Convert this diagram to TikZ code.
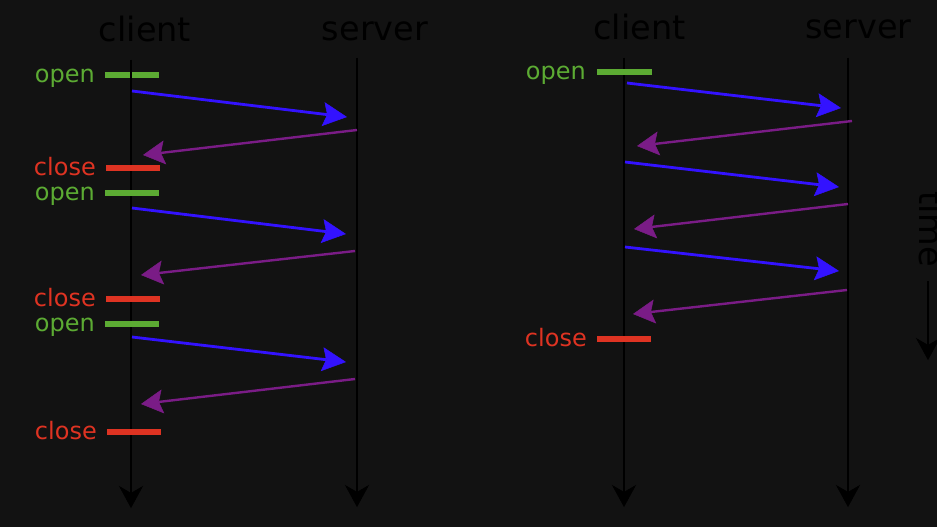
\documentclass[tikz,border=0pt]{standalone}
\usepackage{fontspec}
\setmainfont{DejaVu Sans}
\usetikzlibrary{arrows.meta}
\definecolor{bgc}{HTML}{121212}
\definecolor{reqc}{HTML}{3312FF}
\definecolor{respc}{HTML}{7A1C86}
\definecolor{openc}{HTML}{5CAB33}
\definecolor{closec}{HTML}{DE3322}
\tikzset{
  lifeline/.style={draw=black, line width=2.8pt, -{Stealth[length=22pt,width=24pt,inset=7pt,line width=0.5pt]}},
  req/.style={draw=reqc, line width=2.8pt, -{Stealth[length=24pt,width=24pt,inset=4pt,line width=0.5pt]}},
  resp/.style={draw=respc, line width=2.4pt, -{Stealth[length=22pt,width=24pt,inset=4pt,line width=0.5pt]}},
  openbar/.style={draw=openc, line width=6pt},
  closebar/.style={draw=closec, line width=6pt},
  head/.style={inner sep=0pt, anchor=base, text=black, font=\fontsize{33.5}{40}\selectfont},
  openlbl/.style={inner sep=0pt, anchor=base east, text=openc, font=\fontsize{24}{29}\selectfont},
  closelbl/.style={inner sep=0pt, anchor=base east, text=closec, font=\fontsize{24}{29}\selectfont},
}
\begin{document}
\begin{tikzpicture}[x=1pt,y=-1pt]
\fill[bgc] (0,0) rectangle (937,527);
\useasboundingbox (0,0) rectangle (937,527);

% headings
\node[head] (lc) at (145,42) {client};
\node[head] (ls) at (375,41) {server};
\node[head] (rc) at (639.5,40) {client};
\node[head] (rs) at (858.5,39) {server};

% first open bar (under the line)
\coordinate (lo1a) at (105,75); \coordinate (lo1b) at (159,75);
\draw[openbar] (lo1a) -- (lo1b);

% lifelines
\coordinate (lct) at (131,60); \coordinate (lcb) at (131,508);
\coordinate (lst) at (357,58); \coordinate (lsb) at (357,507);
\coordinate (rct) at (624,58); \coordinate (rcb) at (624,507);
\coordinate (rst) at (848,58); \coordinate (rsb) at (848,507);
\draw[lifeline] (lct) -- (lcb);
\draw[lifeline] (lst) -- (lsb);
\draw[lifeline] (rct) -- (rcb);
\draw[lifeline] (rst) -- (rsb);

% time arrow
\coordinate (tt) at (928,281); \coordinate (tb) at (928,360);
\draw[lifeline] (tt) -- (tb);
\node[inner sep=0pt, anchor=base west, rotate=-90, text=black, font=\fontsize{33.5}{40}\selectfont] (time) at (919,191) {time};

% left bars and labels
\node[openlbl] (lol1) at (95,82) {open};
\coordinate (lc1a) at (106,168); \coordinate (lc1b) at (160,168);
\draw[closebar] (lc1a) -- (lc1b);
\node[closelbl] (lcl1) at (96,175) {close};
\coordinate (lo2a) at (105,193); \coordinate (lo2b) at (159,193);
\draw[openbar] (lo2a) -- (lo2b);
\node[openlbl] (lol2) at (95,200) {open};
\coordinate (lc2a) at (106,299); \coordinate (lc2b) at (160,299);
\draw[closebar] (lc2a) -- (lc2b);
\node[closelbl] (lcl2) at (96,306) {close};
\coordinate (lo3a) at (105,324); \coordinate (lo3b) at (159,324);
\draw[openbar] (lo3a) -- (lo3b);
\node[openlbl] (lol3) at (95,331) {open};
\coordinate (lc3a) at (107,432); \coordinate (lc3b) at (161,432);
\draw[closebar] (lc3a) -- (lc3b);
\node[closelbl] (lcl3) at (97,439) {close};

% right bars and labels
\coordinate (ro1a) at (597,72); \coordinate (ro1b) at (652,72);
\draw[openbar] (ro1a) -- (ro1b);
\node[openlbl] (rol1) at (586,79) {open};
\coordinate (rc1a) at (597,339); \coordinate (rc1b) at (651,339);
\draw[closebar] (rc1a) -- (rc1b);
\node[closelbl] (rcl1) at (587,346) {close};

% left messages
\coordinate (a1s) at (132,91);  \coordinate (a1e) at (347,117);
\coordinate (b1s) at (357,130); \coordinate (b1e) at (143,155);
\coordinate (a2s) at (132,208); \coordinate (a2e) at (346,234);
\coordinate (b2s) at (355,251); \coordinate (b2e) at (141,275);
\coordinate (a3s) at (132,337); \coordinate (a3e) at (346,362);
\coordinate (b3s) at (355,379); \coordinate (b3e) at (141,404);
\draw[req] (a1s) -- (a1e);
\draw[resp] (b1s) -- (b1e);
\draw[req] (a2s) -- (a2e);
\draw[resp] (b2s) -- (b2e);
\draw[req] (a3s) -- (a3e);
\draw[resp] (b3s) -- (b3e);

% right messages
\coordinate (c1s) at (627,83);  \coordinate (c1e) at (841,108);
\coordinate (d1s) at (852,121); \coordinate (d1e) at (637,146);
\coordinate (c2s) at (625,162); \coordinate (c2e) at (839,187);
\coordinate (d2s) at (848,204); \coordinate (d2e) at (634,229);
\coordinate (c3s) at (625,247); \coordinate (c3e) at (839,271);
\coordinate (d3s) at (847,290); \coordinate (d3e) at (633,314);
\draw[req] (c1s) -- (c1e);
\draw[resp] (d1s) -- (d1e);
\draw[req] (c2s) -- (c2e);
\draw[resp] (d2s) -- (d2e);
\draw[req] (c3s) -- (c3e);
\draw[resp] (d3s) -- (d3e);
\end{tikzpicture}
\end{document}
